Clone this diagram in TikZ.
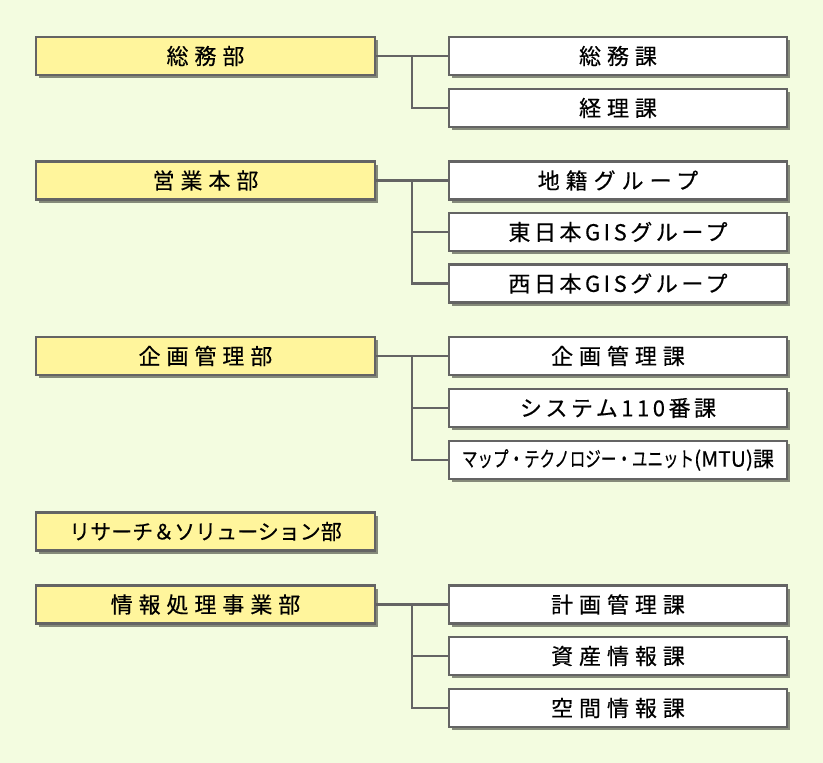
\documentclass[tikz,border=0pt]{standalone}
\usepackage{fontspec}
\newfontfamily\jpfont[FakeBold=0.4]{Noto Sans CJK JP}
\newfontfamily\jpwide[LetterSpace=27, FakeBold=0.4]{Noto Sans CJK JP}
\newfontfamily\jpmid[LetterSpace=16, FakeBold=0.4]{Noto Sans CJK JP}
\usetikzlibrary{calc, shadows, positioning}
\definecolor{bggreen}{HTML}{F3FCE0}
\definecolor{deptyellow}{HTML}{FFF59C}
\definecolor{linegray}{HTML}{646464}
\tikzstyle{dept} = [rectangle, text centered, minimum width=339pt, minimum height=38pt,
	draw=linegray, line width=2.3pt, fill=deptyellow, inner sep=0pt,
	drop shadow={shadow xshift=3pt, shadow yshift=-3pt, opacity=0.45, fill=black}]
\tikzstyle{sect} = [rectangle, text centered, minimum width=338pt, minimum height=38pt,
	draw=linegray, line width=2.3pt, fill=white, inner sep=0pt,
	drop shadow={shadow xshift=3pt, shadow yshift=-3pt, opacity=0.45, fill=black}]
\tikzstyle{mixed} = [font=\jpmid\fontsize{22}{26}\selectfont]
\tikzstyle{tight} = [font=\jpfont\fontsize{21}{25}\selectfont]
\tikzstyle{link} = [draw=linegray, line width=2.3pt]

\begin{document}
\begin{tikzpicture}[x=1pt, y=-1pt, font=\jpwide\fontsize{22}{26}\selectfont]
	% background
	\fill [bggreen] (0,0) rectangle (823,763);
	\useasboundingbox (0,0) rectangle (823,763);

	% set up departments
	\node (somu) [dept] at (205.5,56) {総務部};
	\node (eigyo) [dept] at (205.5,180.5) {営業本部};
	\node (kikaku) [dept] at (205.5,356) {企画管理部};
	\node (research) [dept, tight] at (205.5,531.5) {リサーチ＆ソリューション部};
	\node (joho) [dept] at (205.5,604.5) {情報処理事業部};

	% set up sections
	\node (somuka) [sect] at (618,56) {総務課};
	\node (keiri) [sect] at (618,108) {経理課};
	\node (chiseki) [sect] at (618,180.5) {地籍グループ};
	\node (eastgis) [sect, mixed] at (618,232) {東日本GISグループ};
	\node (westgis) [sect, mixed] at (618,283.5) {西日本GISグループ};
	\node (kikakuka) [sect] at (618,356) {企画管理課};
	\node (sys110) [sect, mixed] at (618,408) {システム110番課};
	\node (mtu) [sect, tight] at (618,460) {\scalebox{0.74}[1]{マップ・テクノロジー・ユニット}(MTU)課};
	\node (keikaku) [sect] at (618,604.5) {計画管理課};
	\node (shisan) [sect] at (618,656) {資産情報課};
	\node (kukan) [sect] at (618,708) {空間情報課};

	% set up branch points
	\coordinate (j1) at ($(somu.east)!0.5!(somuka.west)$);
	\coordinate (j2) at ($(eigyo.east)!0.5!(chiseki.west)$);
	\coordinate (j3) at ($(kikaku.east)!0.5!(kikakuka.west)$);
	\coordinate (j5) at ($(joho.east)!0.5!(keikaku.west)$);

	% set up connectors
	\draw [link] (somu.east) -- (somuka.west);
	\draw [link] (j1) |- (keiri.west);
	\draw [link] (eigyo.east) -- (chiseki.west);
	\draw [link] (j2) |- (eastgis.west);
	\draw [link] (j2) |- (westgis.west);
	\draw [link] (kikaku.east) -- (kikakuka.west);
	\draw [link] (j3) |- (sys110.west);
	\draw [link] (j3) |- (mtu.west);
	\draw [link] (joho.east) -- (keikaku.west);
	\draw [link] (j5) |- (shisan.west);
	\draw [link] (j5) |- (kukan.west);
\end{tikzpicture}
\end{document}
